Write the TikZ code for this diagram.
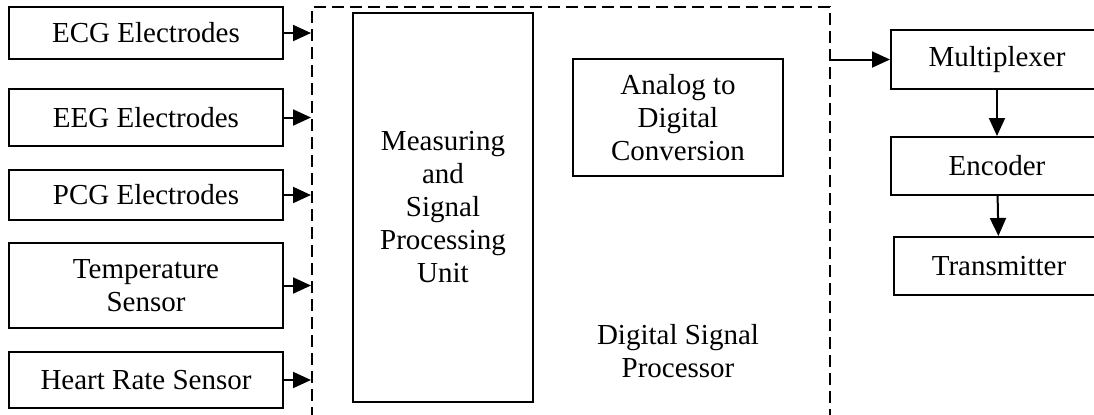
\documentclass[tikz,border=0pt]{standalone}
\usepackage{fontspec}
\setmainfont{Liberation Serif}
\usetikzlibrary{arrows.meta}

\tikzset{blk/.style={draw,line width=1pt,align=center,inner sep=0pt},
  arr/.style={->,line width=1pt}}

\begin{document}
\begin{tikzpicture}[x=0.5pt,y=-0.5pt,>={Triangle[length=9pt,width=8pt]},
    font=\fontsize{14.5}{16.5}\selectfont]
      \useasboundingbox (0,0) rectangle (1094,414);
      \node[blk,minimum width=137pt,minimum height=26pt] (1) at (146,33) {ECG Electrodes};
      \node[blk,minimum width=137pt,minimum height=28.5pt] (2) at (146,117.5) {EEG Electrodes};
      \node[blk,minimum width=137pt,minimum height=25pt] (3) at (146,195) {PCG Electrodes};
      \node[blk,minimum width=137pt,minimum height=42.5pt] (4) at (146,285.5) {Temperature\\Sensor};
      \node[blk,minimum width=137pt,minimum height=28pt] (5) at (146,380) {Heart Rate Sensor};
      \node[draw,line width=1pt,dash pattern=on 6pt off 3pt,minimum width=259pt,minimum height=209pt] (6) at (571,216) {};
      \node[align=center] (7) at (678,351) {Digital Signal\\Processor};
      \node[blk,minimum width=90pt,minimum height=194.5pt] (8) at (443,207.5) {Measuring\\and\\Signal\\Processing\\Unit};
      \node[blk,minimum width=105pt,minimum height=58.5pt] (9) at (678,117.5) {Analog to\\Digital\\Conversion};
      \node[blk,minimum width=106pt,minimum height=29.5pt] (10) at (997,59.5) {Multiplexer};
      \node[blk,minimum width=106pt,minimum height=29pt] (11) at (997,166) {Encoder};
      \node[blk,minimum width=105pt,minimum height=29pt] (12) at (999,266) {Transmitter};

      \draw[arr] (1.east) -- (1.east -| 6.west);
      \draw[arr] (2.east) -- (2.east -| 6.west);
      \draw[arr] (3.east) -- (3.east -| 6.west);
      \draw[arr] (4.east) -- (4.east -| 6.west);
      \draw[arr] (5.east) -- (5.east -| 6.west);
      \draw[arr] (10.west -| 6.east) -- (10.west);
      \draw[arr] (10) -- (11);
      \draw[arr] (11) -- (12);
    \end{tikzpicture}
\end{document}
